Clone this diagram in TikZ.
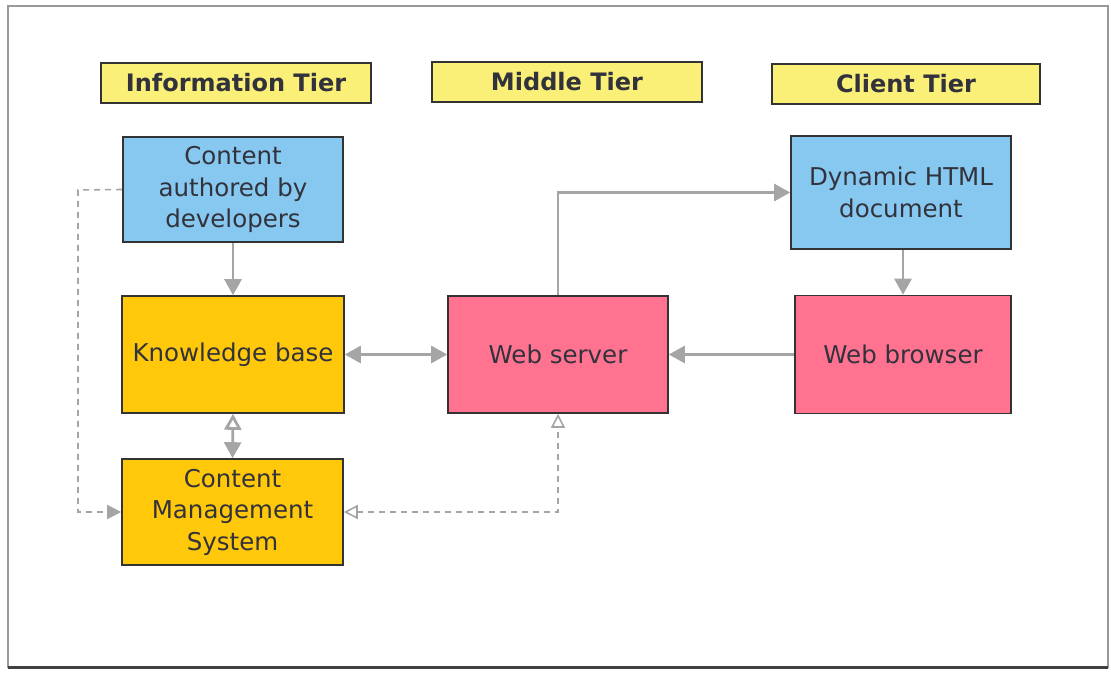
\documentclass[tikz,border=0pt]{standalone}
\usepackage{fontspec}
\setmainfont{DejaVu Sans}
\usetikzlibrary{arrows.meta}
\definecolor{tierYellow}{RGB}{250,240,120}
\definecolor{infoBlue}{RGB}{135,200,240}
\definecolor{kbGold}{RGB}{255,200,10}
\definecolor{webPink}{RGB}{255,115,145}
\definecolor{lineGray}{RGB}{165,165,165}
\definecolor{txtGray}{RGB}{50,50,60}
\tikzset{
  boxbase/.style={draw=black!80, line width=1.6pt, text=txtGray,
    font=\fontsize{24.5}{31.5}\selectfont, align=center, inner sep=0pt},
  tierbox/.style={boxbase, fill=tierYellow, font=\bfseries\fontsize{24}{28}\selectfont,
    minimum width=270pt, minimum height=40pt},
  bluebox/.style={boxbase, fill=infoBlue, minimum width=220pt},
  goldbox/.style={boxbase, fill=kbGold, minimum width=222pt},
  pinkbox/.style={boxbase, fill=webPink, minimum width=220pt, minimum height=117pt},
  tip/.style={Triangle[length=16pt,width=17pt]},
  flow/.style={draw=lineGray, line width=2.8pt, -{Triangle[length=16pt,width=17pt]}},
  dashflow/.style={draw=lineGray, line width=1.6pt, dash pattern=on 6pt off 5pt},
}
\begin{document}
\begin{tikzpicture}[x=1pt,y=-1pt]
  \useasboundingbox (0,0) rectangle (1111,672);
  \fill[white] (0,0) rectangle (1111,672);
  % outer frame
  \draw[black!40, line width=2pt] (8,6) rectangle (1108,667);
  \draw[black!75, line width=3pt] (8,667) -- (1108,667);

  % tier headings
  \node[tierbox] (info) at (236,83) {Information Tier};
  \node[tierbox] (mid) at (567,82) {Middle Tier};
  \node[tierbox, minimum width=268pt] (client) at (906,84) {Client Tier};

  % information tier
  \node[bluebox, minimum height=105pt] (authored) at (233,189.5) {Content\\authored by\\developers};
  \node[goldbox, minimum height=117pt] (kb) at (233,354.5) {Knowledge base};
  \node[goldbox, minimum height=106pt, minimum width=221pt] (cms) at (232.5,512) {Content\\Management\\System};

  % middle tier
  \node[pinkbox] (ws) at (558,354.5) {Web server};

  % client tier
  \node[bluebox, minimum height=113pt] (dhtml) at (901,192.5) {Dynamic HTML\\document};
  \node[pinkbox, minimum width=216pt, minimum height=118pt] (wb) at (903,354.5) {Web browser};

  % solid connectors
  \draw[flow] (authored.south) -- (kb.north);
  \draw[flow, {Triangle[length=16pt,width=17pt]}-{Triangle[length=16pt,width=17pt]}] (kb.east) -- (ws.west);
  \draw[flow] (ws.north) |- (dhtml.west);
  \draw[flow] (dhtml.south -| wb.north) -- (wb.north);
  \draw[flow] (wb.west) -- (ws.east);
  \draw[flow, {Triangle[open,length=16pt,width=17pt]}-{Triangle[length=16pt,width=17pt]}] (kb.south) -- (cms.north);

  % dashed connectors
  \coordinate (leftrail) at (78,190);
  \draw[dashflow, -{Triangle[length=14pt,width=14pt]}] (authored.west) -- (leftrail) |- (cms.west);
  \draw[dashflow, {Triangle[open,length=14pt,width=14pt]}-{Triangle[open,length=14pt,width=14pt]}]
    (cms.east) -| (ws.south);
\end{tikzpicture}
\end{document}
